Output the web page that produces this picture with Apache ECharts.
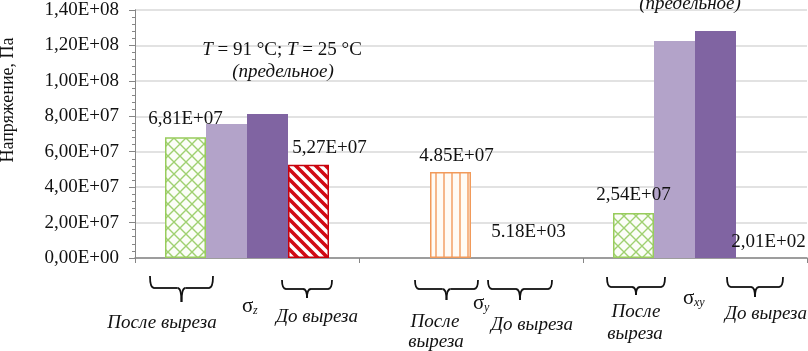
<!DOCTYPE html>
<html>
<head>
<meta charset="utf-8">
<script src="https://cdn.jsdelivr.net/npm/echarts@6/dist/echarts.min.js"></script>
<style>
html,body{margin:0;padding:0;background:#fff;}
#chart{width:808px;height:351px;}
</style>
</head>
<body>
<div id="chart"></div>
<script>
// данные
var categories = ['σz', 'σy', 'σxy'];
var yTickLabels = ['0,00E+00', '2,00E+07', '4,00E+07', '6,00E+07', '8,00E+07', '1,00E+08', '1,20E+08', '1,40E+08'];
var afterCut = [6.81e7, null, 2.54e7];         // после выреза (зелёная сетка)
var hotLimit = [7.56e7, 4.85e7, 1.225e8];      // T = 91 °C (светлый), σy - оранжевый
var coldLimit = [8.13e7, null, 1.281e8];       // T = 25 °C (предельное)
var beforeCut = [5.27e7, 5.18e3, 2.01e2];      // до выреза
var afterLabels = ['6,81E+07', '', '2,54E+07'];
var hotLabels = ['', '4.85E+07', ''];
var beforeLabels = ['5,27E+07', '5.18E+03', '2,01E+02'];

var FONT = "'Liberation Serif', serif";
var FS = 19;
var dom = document.getElementById('chart');
var myChart = echarts.init(dom);

//штриховки
function pattern(kind) {
	var c = document.createElement('canvas');
	var ctx;
	if (kind == 'cross') {
		c.width = 12; c.height = 12;
		ctx = c.getContext('2d');
		ctx.fillStyle = '#fbfdf7'; ctx.fillRect(0, 0, 12, 12);
		ctx.strokeStyle = '#9fd070'; ctx.lineWidth = 1.4;
		ctx.beginPath();
		ctx.moveTo(0, 0); ctx.lineTo(12, 12);
		ctx.moveTo(12, 0); ctx.lineTo(0, 12);
		ctx.stroke();
	} else if (kind == 'diag') {
		c.width = 10; c.height = 10;
		ctx = c.getContext('2d');
		ctx.fillStyle = '#ffffff'; ctx.fillRect(0, 0, 10, 10);
		ctx.strokeStyle = '#d10a14'; ctx.lineWidth = 3.6;
		ctx.beginPath();
		ctx.moveTo(-10, 0); ctx.lineTo(10, 20);
		ctx.moveTo(0, 0); ctx.lineTo(10, 10);
		ctx.moveTo(0, -10); ctx.lineTo(20, 10);
		ctx.stroke();
	} else {
		c.width = 8; c.height = 8;
		ctx = c.getContext('2d');
		ctx.fillStyle = '#fffbf5'; ctx.fillRect(0, 0, 8, 8);
		ctx.strokeStyle = '#f3a066'; ctx.lineWidth = 1.5;
		ctx.beginPath();
		ctx.moveTo(4, 0); ctx.lineTo(4, 8);
		ctx.stroke();
	}
	return { image: c, repeat: 'repeat' };
}

var crossFill = { color: pattern('cross'), borderColor: '#98cc5c', borderWidth: 1.5 };
var diagFill = { color: pattern('diag'), borderColor: '#c8000c', borderWidth: 1.5 };
var vertFill = { color: pattern('vert'), borderColor: '#f19a5a', borderWidth: 1.5 };
var flatFill = { color: 'transparent', borderWidth: 0 };   // почти нулевые значения

var labelStyle = { fontFamily: FONT, fontSize: FS, color: '#111' };

// собрать точки с подписями
function points(vals, texts, fills, offsets) {
	var res = [];
	for (var i = 0; i < vals.length; i++) {
		var p = { value: vals[i] };
		if (fills && fills[i]) p.itemStyle = fills[i];
		if (texts && texts[i]) {
			p.label = echarts.util.extend({
				show: true, position: 'top', formatter: texts[i],
				distance: offsets[i][1], offset: [offsets[i][0], 0]
			}, labelStyle);
		}
		res.push(p);
	}
	return res;
}

function txt(x, y, s, opt) {
	opt = opt || {};
	return {
		type: 'text', x: x, y: y, rotation: opt.rot || 0, z: 100,
		style: {
			text: s, fontFamily: FONT, fontSize: opt.size || FS,
			fontStyle: opt.italic ? 'italic' : 'normal',
			fill: '#111', align: opt.align || 'center', verticalAlign: 'middle'
		}
	};
}

var braceStroke = { stroke: '#111', lineWidth: 1.8, fill: null };
function curve(x1, y1, cx, cy, x2, y2) {
	return { type: 'bezierCurve', z: 100, shape: { x1: x1, y1: y1, cpx1: cx, cpy1: cy, x2: x2, y2: y2 }, style: braceStroke };
}
function seg(x1, y1, x2, y2) {
	return { type: 'line', z: 100, shape: { x1: x1, y1: y1, x2: x2, y2: y2 }, style: braceStroke };
}
// фигурная скобка
function brace(x1, x2, yTop, yBot, yTip) {
	var cx = (x1 + x2) / 2;
	return [
		curve(x1, yTop, x1, yBot, x1 + 4, yBot),
		seg(x1 + 4, yBot, cx - 4, yBot),
		curve(cx - 4, yBot, cx, yBot, cx, yTip),
		curve(cx, yTip, cx, yBot, cx + 4, yBot),
		seg(cx + 4, yBot, x2 - 4, yBot),
		curve(x2 - 4, yBot, x2, yBot, x2, yTop)
	];
}

function sigma(x, y, sub) {
	return [
		txt(x, y, 'σ', { size: 21, align: 'left' }),
		txt(x + 11, y + 5, sub, { size: 12, italic: true, align: 'left' })
	];
}

var graphics = [
	txt(8, 100, 'Напряжение, Па', { rot: Math.PI / 2, size: 18 }),
	{ type: 'text', x: 282, y: 50, z: 100, style: {
		text: '{i|T} = 91 °C; {i|T} = 25 °C', fontFamily: FONT, fontSize: FS, fill: '#111',
		align: 'center', verticalAlign: 'middle',
		rich: { i: { fontFamily: FONT, fontSize: FS, fontStyle: 'italic', fill: '#111' } }
	} },
	txt(283, 72, '(предельное)', { italic: true }),
	txt(690, 4, '(предельное)', { italic: true }),

	txt(162, 323, 'После выреза', { italic: true }),
	txt(317, 317, 'До выреза', { italic: true }),
	txt(435, 322, 'После', { italic: true }),
	txt(436, 342, 'выреза', { italic: true }),
	txt(532, 325, 'До выреза', { italic: true }),
	txt(636, 312, 'После', { italic: true }),
	txt(635, 334, 'выреза', { italic: true }),
	txt(766, 314, 'До выреза', { italic: true })
].concat(
	brace(150, 213, 276, 288, 302), brace(282, 332, 280, 289, 298),
	brace(415, 478, 280, 289, 300), brace(488, 552, 280, 289, 300),
	brace(607, 665, 277, 287, 295), brace(727, 783, 277, 287, 297),
	sigma(242, 306, 'z'), sigma(473, 303, 'y'), sigma(683, 298, 'xy')
);

var yAxisBase = {
	type: 'value', min: 0, max: 1.4e8, interval: 2e7,
	axisLine: { show: true, lineStyle: { color: '#868686', width: 1 } }
};

option = {
	animation: false,
	grid: { left: 135, right: 1, top: 10, bottom: 93 },
	xAxis: {
		type: 'category',
		data: categories,
		axisLine: { lineStyle: { color: '#868686', width: 1.5 } },
		axisTick: { show: true, length: 5, lineStyle: { color: '#868686' } },
		axisLabel: { show: false }
	},
	yAxis: [
		echarts.util.extend({
			axisTick: { show: true, length: 6, lineStyle: { color: '#868686' } },
			splitLine: { show: true, lineStyle: { color: '#d9d9d9', width: 1.5 } },
			axisLabel: {
				fontFamily: FONT, fontSize: FS, color: '#111', margin: 16,
				formatter: function(v) { return yTickLabels[Math.round(v / 2e7)]; }
			}
		}, yAxisBase),
		echarts.util.extend({
			position: 'left',
			axisTick: { show: false },
			minorTick: { show: true, splitNumber: 5, length: 3, lineStyle: { color: '#868686' } },
			axisLabel: { show: false },
			splitLine: { show: false }
		}, yAxisBase)
	],
	graphic: graphics,
	series: [
		{
			name: 'После выреза', type: 'bar', barWidth: 41, barGap: '0%',
			itemStyle: crossFill,
			data: points(afterCut, afterLabels, null, [[0, 9], [0, 0], [0, 8]])
		},
		{
			name: 'T = 91 °C', type: 'bar', barWidth: 41, barGap: '0%',
			itemStyle: { color: '#b3a3c9' },
			data: points(hotLimit, hotLabels, [null, vertFill, null], [[0, 0], [6, 7], [0, 0]])
		},
		{
			name: 'T = 25 °C', type: 'bar', barWidth: 41, barGap: '0%',
			itemStyle: { color: '#8064a2' },
			data: points(coldLimit, null, null, null)
		},
		{
			name: 'До выреза', type: 'bar', barWidth: 41, barGap: '0%',
			itemStyle: diagFill,
			data: points(beforeCut, beforeLabels, [null, flatFill, flatFill], [[21, 7], [-4, 16], [12, 6]])
		}
	]
};

myChart.setOption(option, true);
</script>
</body>
</html>
